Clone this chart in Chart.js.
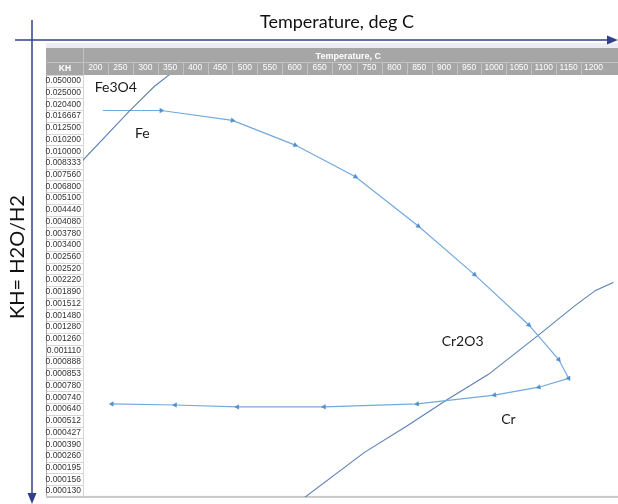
<!DOCTYPE html>
<html>
<head>
<meta charset="utf-8">
<script src="https://cdn.jsdelivr.net/npm/chart.js@4.4.0/dist/chart.umd.min.js"></script>
<style>
  html, body { margin: 0; padding: 0; background: #fff; }
  #wrap { position: relative; width: 618px; height: 504px; }
</style>
</head>
<body>
<div id="wrap"><canvas id="chart"></canvas></div>
<script>
// column headers (deg C)
const temperatures = [200, 250, 300, 350, 400, 450, 500, 550, 600, 650, 700, 750,
  800, 850, 900, 950, 1000, 1050, 1100, 1150, 1200];

// KH = H2O/H2 rows, top to bottom
const khValues = ["0.050000", "0.025000", "0.020400", "0.016667", "0.012500", "0.010200",
  "0.010000", "0.008333", "0.007560", "0.006800", "0.005100", "0.004440", "0.004080",
  "0.003780", "0.003400", "0.002560", "0.002520", "0.002220", "0.001890", "0.001512",
  "0.001480", "0.001280", "0.001260", "0.001110", "0.000888", "0.000853", "0.000780",
  "0.000740", "0.000640", "0.000512", "0.000427", "0.000390", "0.000260", "0.000195",
  "0.000156", "0.000130"];

// Fe3O4 / Fe boundary (temperature, row index in the KH table)
const ironTemp = [172, 268, 318, 352];
const ironRow = [6.9, 2.59, 0.48, -0.65];

// process path, with arrows
const pathTemp = [215, 332, 475, 601, 722, 848, 961, 1070, 1130, 1150, 1090, 1001, 846, 659, 485, 360, 233];
const pathRow = [2.53, 2.53, 3.37, 5.48, 8.18, 12.39, 16.53, 20.83, 23.78, 25.38, 26.14, 26.81, 27.57, 27.82, 27.82, 27.66, 27.57];

// Cr2O3 / Cr boundary
const chromeTemp = [612, 740, 826, 905, 989, 1090, 1164, 1204, 1242];
const chromeRow = [35.8, 31.7, 29.43, 27.23, 25.04, 21.67, 19.14, 17.88, 17.15];

// region names
const regionNames = ["Fe3O4", "Fe", "Cr2O3", "Cr"];
const regionTemp = [241, 294, 937, 1029];
const regionRow = [0.59, 4.47, 22.26, 28.92];

const tableFont = "'Liberation Sans', Arial, sans-serif";
const slideFont = "Lato, 'Open Sans', sans-serif";

const toPoints = (xs, ys) => xs.map((x, i) => ({ x: x, y: ys[i] }));

// point arrow along the direction of travel
function arrowAngle(ctx) {
  const i = ctx.dataIndex;
  if (!i) return 0;
  const d = ctx.dataset.data;
  const sx = ctx.chart.scales.x, sy = ctx.chart.scales.y;
  const dx = sx.getPixelForValue(d[i].x) - sx.getPixelForValue(d[i - 1].x);
  const dy = sy.getPixelForValue(d[i].y) - sy.getPixelForValue(d[i - 1].y);
  return Math.atan2(dy, dx) * 180 / Math.PI + 90;
}

const tablePlugin = {
  id: 'table',
  beforeDraw(chart) {
    const { ctx, chartArea: a, scales: { x, y } } = chart;
    ctx.save();
    ctx.fillStyle = '#ececf2';
    ctx.fillRect(46, 43, 572, 5);
    // header band
    ctx.fillStyle = '#a6a6a6';
    ctx.fillRect(46, 48, 572, a.top - 48);
    ctx.strokeStyle = '#c2c2c2';
    ctx.lineWidth = 1;
    ctx.beginPath();
    ctx.moveTo(46, 62.5); ctx.lineTo(618, 62.5);
    ctx.moveTo(83.5, 48); ctx.lineTo(83.5, a.top);
    for (let t = 225; t <= 1175; t += 50) {
      const px = Math.round(x.getPixelForValue(t)) + 0.5;
      ctx.moveTo(px, 62.5); ctx.lineTo(px, a.top);
    }
    ctx.stroke();
    // KH column cells
    ctx.strokeStyle = '#d6d6d6';
    ctx.beginPath();
    for (let i = 0; i <= khValues.length; i++) {
      const py = Math.round(y.getPixelForValue(i - 0.5)) + 0.5;
      ctx.moveTo(46, py); ctx.lineTo(83, py);
    }
    ctx.moveTo(83.5, a.top); ctx.lineTo(83.5, a.bottom);
    ctx.stroke();
    ctx.strokeStyle = '#a9a9a9';
    ctx.beginPath();
    ctx.moveTo(46.5, 48); ctx.lineTo(46.5, a.bottom);
    ctx.stroke();
    ctx.fillStyle = '#c8c8c8';
    ctx.fillRect(46, a.bottom - 1, 572, 2);
    // KH header text
    ctx.fillStyle = '#ffffff';
    ctx.font = 'bold 8.5px ' + tableFont;
    ctx.textAlign = 'center';
    ctx.textBaseline = 'middle';
    ctx.fillText('KH', 65, 68.5);
    ctx.restore();
  }
};

const notesPlugin = {
  id: 'notes',
  afterDraw(chart) {
    const { ctx, scales: { x, y } } = chart;
    ctx.save();
    // region names
    ctx.fillStyle = '#1a1a1a';
    ctx.font = '14px ' + slideFont;
    ctx.textAlign = 'center';
    ctx.textBaseline = 'middle';
    regionNames.forEach((n, i) => {
      ctx.fillText(n, x.getPixelForValue(regionTemp[i]), y.getPixelForValue(regionRow[i]));
    });
    // slide axes with arrows
    ctx.strokeStyle = '#33418c';
    ctx.fillStyle = '#33418c';
    ctx.lineWidth = 1.5;
    ctx.beginPath();
    ctx.moveTo(15, 40); ctx.lineTo(608, 40);
    ctx.moveTo(32, 20); ctx.lineTo(32, 494);
    ctx.stroke();
    ctx.beginPath();
    ctx.moveTo(618, 40); ctx.lineTo(607, 35.5); ctx.lineTo(607, 44.5); ctx.closePath();
    ctx.moveTo(32, 504); ctx.lineTo(27.5, 493); ctx.lineTo(36.5, 493); ctx.closePath();
    ctx.fill();
    // slide axis titles
    ctx.fillStyle = '#111111';
    ctx.font = '18px ' + slideFont;
    ctx.fillText('Temperature, deg C', 337, 22);
    ctx.translate(18, 257);
    ctx.rotate(-Math.PI / 2);
    ctx.font = '20px ' + slideFont;
    ctx.fillText('KH= H2O/H2', 0, 0);
    ctx.restore();
  }
};

new Chart(document.getElementById('chart'), {
  type: 'scatter',
  data: {
    datasets: [
      {
        label: 'Fe3O4/Fe',
        data: toPoints(ironTemp, ironRow),
        showLine: true,
        borderColor: '#5b80b8',
        borderWidth: 1.1,
        pointRadius: 0
      },
      {
        label: 'path',
        data: toPoints(pathTemp, pathRow),
        showLine: true,
        borderColor: '#74a9dd',
        borderWidth: 1.2,
        pointStyle: 'triangle',
        pointRadius: (c) => (c.dataIndex === 0 ? 0 : 2.6),
        pointRotation: arrowAngle,
        pointBackgroundColor: '#4f8fd0',
        pointBorderColor: '#4f8fd0',
        pointBorderWidth: 0.5
      },
      {
        label: 'Cr2O3/Cr',
        data: toPoints(chromeTemp, chromeRow),
        showLine: true,
        borderColor: '#5b80b8',
        borderWidth: 1.1,
        pointRadius: 0
      }
    ]
  },
  options: {
    animation: false,
    responsive: true,
    maintainAspectRatio: false,
    layout: { padding: { top: 48, bottom: 2, left: 0, right: 0 } },
    plugins: { legend: { display: false }, tooltip: { enabled: false } },
    scales: {
      x: {
        type: 'linear',
        position: 'top',
        min: 175,
        max: 1240,
        afterBuildTicks: (s) => { s.ticks = temperatures.map((v) => ({ value: v })); },
        afterFit: (s) => { s.height = 27; },
        ticks: {
          color: '#ffffff',
          font: { family: tableFont, size: 8.5 },
          padding: 2,
          maxRotation: 0,
          autoSkip: false,
          callback: (v) => String(v)
        },
        grid: { display: false, drawTicks: false },
        border: { display: false },
        title: {
          display: true,
          text: 'Temperature, C',
          color: '#ffffff',
          font: { family: tableFont, size: 9, weight: 'bold' },
          padding: { top: 3, bottom: 0 }
        }
      },
      y: {
        type: 'linear',
        reverse: true,
        min: -0.5,
        max: 35.5,
        afterBuildTicks: (s) => { s.ticks = khValues.map((_, i) => ({ value: i })); },
        afterFit: (s) => { s.width = 83; },
        ticks: {
          color: '#333333',
          font: { family: tableFont, size: 8.5 },
          padding: 2,
          autoSkip: false,
          callback: (v) => khValues[v]
        },
        grid: { display: false, drawTicks: false },
        border: { display: false }
      }
    }
  },
  plugins: [tablePlugin, notesPlugin]
});
</script>
</body>
</html>
